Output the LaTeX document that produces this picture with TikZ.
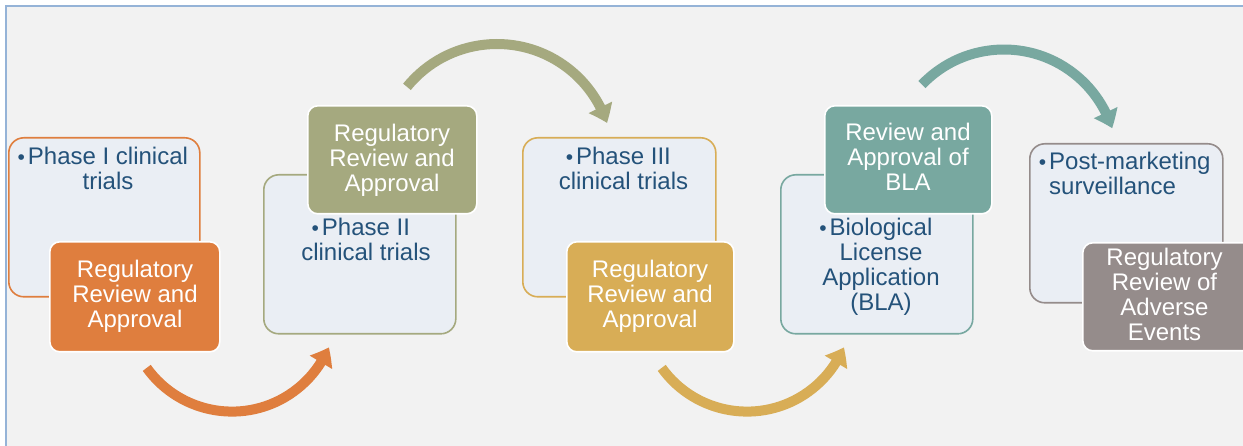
\documentclass[tikz,border=0pt]{standalone}
\usepackage{fontspec}
\setmainfont{Liberation Sans}
\usetikzlibrary{arrows.meta,bending}
\definecolor{bgc}{HTML}{F2F2F2}
\definecolor{framec}{HTML}{95B3D7}
\definecolor{lightfill}{HTML}{EAEEF4}
\definecolor{txtc}{HTML}{24527A}
\definecolor{cOrange}{HTML}{DF7E3E}
\definecolor{cOlive}{HTML}{A5A97F}
\definecolor{cGold}{HTML}{D8AD56}
\definecolor{cTeal}{HTML}{78A8A0}
\definecolor{cGray}{HTML}{958C8B}
\newcommand{\bul}{\llap{{\fontsize{21}{21}\selectfont\textbullet}\hspace{3pt}}}
\begin{document}
\begin{tikzpicture}[x=1pt,y=1pt,
  lightbox/.style={draw=#1, fill=lightfill, line width=1.6pt, rounded corners=15pt,
    inner sep=0pt, anchor=north west},
  colorbox/.style={draw=white, fill=#1, line width=1.6pt, rounded corners=10pt,
    inner sep=0pt, anchor=north west},
  btext/.style={text=txtc, font=\fontsize{24}{25}\selectfont, align=center,
    inner sep=0pt, anchor=north},
  wtext/.style={text=white, font=\fontsize{24}{25}\selectfont, align=center,
    inner sep=0pt, anchor=north},
  flow/.style={draw=#1, line width=10pt, -{Triangle[width=25pt,length=17pt,bend]}}
]
\clip (0,0) rectangle (1243,-446);
\fill[white] (0,0) rectangle (1243,-446);
\fill[bgc] (6,-6) rectangle (1243,-446);
\draw[framec, line width=2.8pt] (6,-446) -- (6,-6) -- (1250,-6);

% stage 1
\node[lightbox=cOrange, minimum width=191pt, minimum height=159pt] (b1) at (8,-137) {};
\node[colorbox=cOrange, minimum width=170pt, minimum height=110pt] (o1) at (49,-241) {};
\node[btext] (t1) at (108,-147) {\bul Phase I clinical\\trials};
\node[wtext] (w1) at (135,-260) {Regulatory\\Review and\\Approval};

% stage 2
\node[lightbox=cOlive, minimum width=192pt, minimum height=159pt] (b2) at (263,-174) {};
\node[colorbox=cOlive, minimum width=169pt, minimum height=108pt] (o2) at (307,-105) {};
\node[btext] (t2) at (366,-218) {\bul Phase II\\clinical trials};
\node[wtext] (w2) at (392,-124) {Regulatory\\Review and\\Approval};

% stage 3
\node[lightbox=cGold, minimum width=193pt, minimum height=159pt] (b3) at (522,-137) {};
\node[colorbox=cGold, minimum width=167pt, minimum height=110pt] (o3) at (566,-241) {};
\node[btext] (t3) at (623.5,-147) {\bul Phase III\\clinical trials};
\node[wtext] (w3) at (650,-260) {Regulatory\\Review and\\Approval};

% stage 4
\node[lightbox=cTeal, minimum width=192pt, minimum height=159pt] (b4) at (780,-174) {};
\node[colorbox=cTeal, minimum width=167pt, minimum height=108pt] (o4) at (824,-105) {};
\node[btext] (t4) at (881,-218) {\bul Biological\\License\\Application\\(BLA)};
\node[wtext] (w4) at (908,-123) {Review and\\Approval of\\BLA};

% stage 5
\node[lightbox=cGray, minimum width=193pt, minimum height=159pt] (b5) at (1029,-143) {};
\node[colorbox=cGray, minimum width=175pt, minimum height=108pt] (o5) at (1082,-242) {};
\node[btext, align=left, anchor=north west] (t5) at (1049,-152) {\bul Post-marketing\\surveillance};
\node[wtext] (w5) at (1164.5,-248) {Regulatory\\Review of\\Adverse\\Events};

% curved arrows
\coordinate (c1) at (232,-306.6);
\coordinate (c2) at (497,-160);
\coordinate (c3) at (747,-306.6);
\coordinate (c4) at (1004,-163);
\draw[flow=cOrange] ([shift={(215.7:105)}]c1) arc[start angle=215.7, end angle=337.2, radius=105];
\draw[flow=cOlive] ([shift={(140.9:116)}]c2) arc[start angle=140.9, end angle=18.6, radius=116];
\draw[flow=cGold] ([shift={(215.7:105)}]c3) arc[start angle=215.7, end angle=337.2, radius=105];
\draw[flow=cTeal] ([shift={(136.3:113.5)}]c4) arc[start angle=136.3, end angle=17.8, radius=113.5];
\end{tikzpicture}
\end{document}
